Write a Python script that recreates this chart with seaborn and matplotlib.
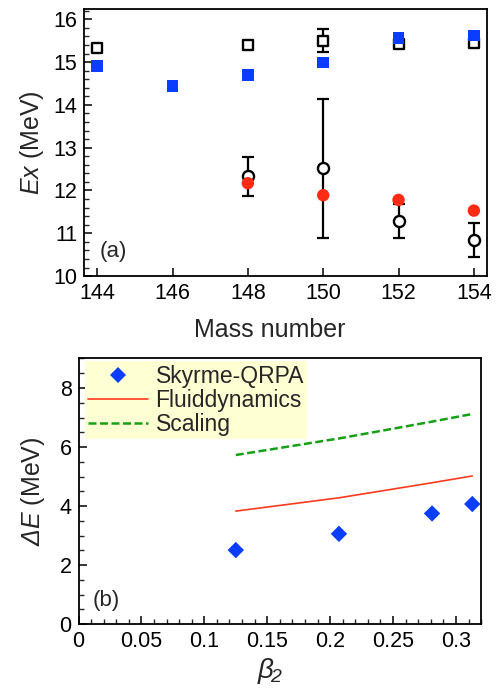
import numpy as np
import pandas as pd
import matplotlib
matplotlib.use("Agg")
import matplotlib.pyplot as plt
from matplotlib.ticker import MultipleLocator
from matplotlib.lines import Line2D
import seaborn as sns

sns.set_theme(style="ticks")
plt.rcParams["font.family"] = ["Liberation Sans", "DejaVu Sans"]
plt.rcParams["mathtext.fontset"] = "custom"
plt.rcParams["mathtext.rm"] = "Liberation Sans"
plt.rcParams["mathtext.it"] = "Liberation Sans:italic"
plt.rcParams["mathtext.sf"] = "Liberation Sans:italic"

# ---- panel (a): excitation energies vs mass number ----
mass_exp_high = [144, 148, 150, 152, 154]
ex_exp_high = [15.32, 15.40, 15.50, 15.43, 15.45]
err_exp_high = [0.0, 0.06, 0.27, 0.05, 0.05]

mass_th_high = [144, 146, 148, 150, 152, 154]
ex_th_high = [14.90, 14.45, 14.70, 14.99, 15.56, 15.62]

mass_exp_low = [148, 150, 152, 154]
ex_exp_low = [12.33, 12.52, 11.28, 10.84]
err_exp_low = [0.46, 1.62, 0.40, 0.40]

mass_th_low = [148, 150, 152, 154]
ex_th_low = [12.17, 11.89, 11.78, 11.53]

mass_ticks = [144, 146, 148, 150, 152, 154]

# ---- panel (b): energy splitting vs deformation ----
beta2 = [0.125, 0.207, 0.281, 0.313]
de_qrpa = [2.51, 3.06, 3.75, 4.07]
de_fluid = [3.83, 4.28, 4.79, 5.02]
de_scaling = [5.73, 6.29, 6.86, 7.12]

beta_ticks = [0, 0.05, 0.1, 0.15, 0.2, 0.25, 0.3]
beta_ticklabels = ["0", "0.05", "0.1", "0.15", "0.2", "0.25", "0.3"]

BLUE = "#0b3dff"
RED = "#ff2b12"
GREEN = "#15a015"
LINE_RED = "#ff3a1e"

fig = plt.figure(figsize=(4.97, 6.92), dpi=100)
ax1 = fig.add_axes([0.169, 0.601, 0.811, 0.386])
ax2 = fig.add_axes([0.158, 0.098, 0.810, 0.384])

FS_TICK = 15.5
FS_LABEL = 18

# panel (a)
ax1.errorbar(mass_exp_high, ex_exp_high, yerr=err_exp_high, fmt="none",
             ecolor="black", elinewidth=1.6, capsize=4.5, capthick=1.6, zorder=2)
ax1.errorbar(mass_exp_low, ex_exp_low, yerr=err_exp_low, fmt="none",
             ecolor="black", elinewidth=1.6, capsize=4.5, capthick=1.6, zorder=2)

df_exp_high = pd.DataFrame({"A": mass_exp_high, "E": ex_exp_high})
df_exp_low = pd.DataFrame({"A": mass_exp_low, "E": ex_exp_low})
df_th_high = pd.DataFrame({"A": mass_th_high, "E": ex_th_high})
df_th_low = pd.DataFrame({"A": mass_th_low, "E": ex_th_low})

sns.scatterplot(data=df_exp_high, x="A", y="E", ax=ax1, marker="s", s=52,
                facecolor="white", edgecolor="black", linewidth=1.7, zorder=3)
sns.scatterplot(data=df_exp_low, x="A", y="E", ax=ax1, marker="o", s=64,
                facecolor="white", edgecolor="black", linewidth=1.7, zorder=3)
sns.scatterplot(data=df_th_high, x="A", y="E", ax=ax1, marker="s", s=72,
                color=BLUE, edgecolor="none", linewidth=0, zorder=4)
sns.scatterplot(data=df_th_low, x="A", y="E", ax=ax1, marker="o", s=80,
                color=RED, edgecolor="none", linewidth=0, zorder=4)

ax1.set_xlim(143.65, 154.35)
ax1.set_ylim(10, 16.24)
ax1.set_xticks(mass_ticks)
ax1.yaxis.set_major_locator(MultipleLocator(1))
ax1.yaxis.set_minor_locator(MultipleLocator(0.2))
ax1.set_xlabel("Mass number", fontsize=FS_LABEL, labelpad=10)
ax1.xaxis.label.set_x(0.46)
ax1.set_ylabel("$Ex$ (MeV)", fontsize=FS_LABEL, labelpad=5)
ax1.text(0.04, 0.07, "(a)", transform=ax1.transAxes, fontsize=16)

# panel (b)
df_b = pd.DataFrame({"beta2": beta2, "qrpa": de_qrpa,
                     "fluid": de_fluid, "scaling": de_scaling})
sns.lineplot(data=df_b, x="beta2", y="fluid", ax=ax2, color=LINE_RED,
             linewidth=1.2, zorder=2)
sns.lineplot(data=df_b, x="beta2", y="scaling", ax=ax2, color=GREEN,
             linewidth=1.8, linestyle=(0, (3.2, 1.4)), zorder=2)
sns.scatterplot(data=df_b, x="beta2", y="qrpa", ax=ax2, marker="D", s=70,
                color=BLUE, edgecolor="none", linewidth=0, zorder=3)

ax2.set_xlim(0, 0.32)
ax2.set_ylim(0, 9)
ax2.set_xticks(beta_ticks)
ax2.set_xticklabels(beta_ticklabels)
ax2.xaxis.set_minor_locator(MultipleLocator(0.01))
ax2.yaxis.set_major_locator(MultipleLocator(2))
ax2.yaxis.set_minor_locator(MultipleLocator(0.5))
ax2.set_xlabel(r"$\mathit{β}_{\!\mathsf{2}}$", fontsize=FS_LABEL + 2, labelpad=3)
ax2.xaxis.label.set_x(0.476)
ax2.set_ylabel(r"$\mathsf{ΔE}$ (MeV)", fontsize=FS_LABEL, labelpad=9)
ax2.text(0.035, 0.07, "(b)", transform=ax2.transAxes, fontsize=16)

handles = [
    Line2D([], [], marker="D", color=BLUE, linestyle="none", markersize=8,
           markeredgewidth=0),
    Line2D([], [], color=LINE_RED, linewidth=1.2),
    Line2D([], [], color=GREEN, linewidth=1.8, linestyle=(0, (3.2, 1.4))),
]
leg = ax2.legend(handles, ["Skyrme-QRPA", "Fluiddynamics", "Scaling"],
                 loc="upper left", bbox_to_anchor=(0.015, 0.99),
                 fontsize=16.5, frameon=True, fancybox=False,
                 handlelength=2.6, handletextpad=0.35, labelspacing=0.05,
                 borderpad=0.15, borderaxespad=0.0)
leg.get_frame().set_facecolor("#ffffd4")
leg.get_frame().set_edgecolor("none")
leg.get_frame().set_alpha(1.0)

for ax in (ax1, ax2):
    ax.tick_params(which="major", direction="in", length=6, width=1.1,
                   labelsize=FS_TICK, top=False, right=False, pad=5)
    ax.tick_params(which="minor", direction="in", length=3.5, width=1.0,
                   top=False, right=False)
    for sp in ax.spines.values():
        sp.set_linewidth(1.3)
        sp.set_color("black")
    ax.tick_params(colors="black")

fig.savefig("out.png", dpi=100)
